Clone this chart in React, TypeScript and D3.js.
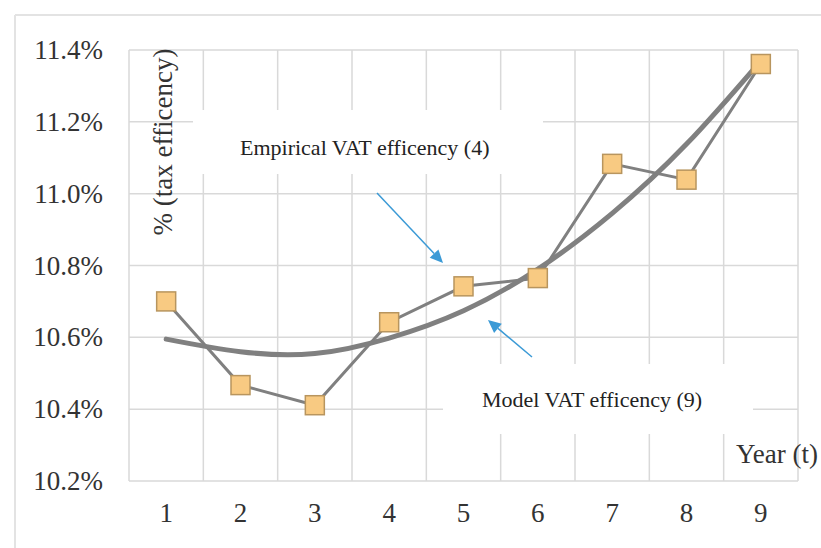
import React, { useEffect } from "react";
import * as d3 from "d3";

const years = ["1", "2", "3", "4", "5", "6", "7", "8", "9"];
const empirical = [10.7, 10.467, 10.411, 10.642, 10.742, 10.765, 11.083, 11.039, 11.361];
const model = [10.595, 10.56, 10.555, 10.598, 10.674, 10.79, 10.945, 11.138, 11.37];
const yTicks = [10.2, 10.4, 10.6, 10.8, 11.0, 11.2, 11.4];

const W = 821;
const H = 548;
const serif = "'Times New Roman', 'Liberation Serif', serif";

export default function App() {
  useEffect(() => {
    document.body.style.margin = "0";
  }, []);

  const x = d3.scaleBand<string>().domain(years).range([129, 798]);
  const bw = x.bandwidth();
  const cx = (i: number) => (x(years[i]) as number) + bw / 2;
  const y = d3.scaleLinear().domain([10.2, 11.4]).range([481, 50]);

  const empLine = d3
    .line<number>()
    .x((_, i) => cx(i))
    .y((d) => y(d));
  const modLine = d3
    .line<number>()
    .x((_, i) => cx(i))
    .y((d) => y(d))
    .curve(d3.curveNatural);

  const grid = "#d9d9d9";
  const lineCol = "#808080";
  const arrowCol = "#3b9ad6";
  const ms = 19;

  const arrow = (x1: number, y1: number, x2: number, y2: number, key: string) => {
    const ang = Math.atan2(y2 - y1, x2 - x1);
    const len = 13;
    const wid = 6;
    const bx = x2 - len * Math.cos(ang);
    const by = y2 - len * Math.sin(ang);
    const px = -Math.sin(ang) * wid;
    const py = Math.cos(ang) * wid;
    return (
      <g key={key}>
        <line x1={x1} y1={y1} x2={bx} y2={by} stroke={arrowCol} strokeWidth={1.5} />
        <path
          d={`M${x2},${y2}L${bx + px},${by + py}L${bx - px},${by - py}Z`}
          fill={arrowCol}
        />
      </g>
    );
  };

  return (
    <svg width={W} height={H} style={{ display: "block", background: "#fff" }}>
      {/* outer chart border */}
      <line x1={15} y1={15} x2={W} y2={15} stroke="#e3e3e3" strokeWidth={2} />
      <line x1={15} y1={15} x2={15} y2={H} stroke="#e3e3e3" strokeWidth={2} />

      {/* gridlines */}
      {yTicks.map((t) => (
        <line key={"h" + t} x1={129} x2={798} y1={y(t)} y2={y(t)} stroke={grid} strokeWidth={1.5} />
      ))}
      {years.map((yr) => (
        <line
          key={"v" + yr}
          x1={x(yr) as number}
          x2={x(yr) as number}
          y1={50}
          y2={481}
          stroke={grid}
          strokeWidth={1.5}
        />
      ))}
      <line x1={798} x2={798} y1={50} y2={481} stroke={grid} strokeWidth={1.5} />

      {/* label backgrounds */}
      <rect x={193} y={110} width={350} height={64} fill="#fff" />
      <rect x={443} y={364} width={310} height={70} fill="#fff" />

      {/* y tick labels */}
      {yTicks.map((t) => (
        <text
          key={"yl" + t}
          x={103}
          y={y(t)}
          textAnchor="end"
          dominantBaseline="central"
          fontFamily={serif}
          fontSize={27}
          fill="#333"
        >
          {t.toFixed(1) + "%"}
        </text>
      ))}
      {/* x tick labels */}
      {years.map((yr, i) => (
        <text
          key={"xl" + yr}
          x={cx(i)}
          y={513}
          textAnchor="middle"
          dominantBaseline="central"
          fontFamily={serif}
          fontSize={27}
          fill="#333"
        >
          {yr}
        </text>
      ))}

      {/* axis titles */}
      <text
        transform="translate(163,142) rotate(-90)"
        textAnchor="middle"
        dominantBaseline="central"
        fontFamily={serif}
        fontSize={27}
        fill="#333"
      >
        % (tax efficency)
      </text>
      <text x={818} y={463} textAnchor="end" fontFamily={serif} fontSize={27} fill="#333">
        Year (t)
      </text>

      {/* series */}
      <path d={modLine(model) as string} fill="none" stroke={lineCol} strokeWidth={5} strokeLinecap="round" />
      <path d={empLine(empirical) as string} fill="none" stroke={lineCol} strokeWidth={3} />
      {empirical.map((v, i) => (
        <rect
          key={"m" + i}
          x={cx(i) - ms / 2}
          y={y(v) - ms / 2}
          width={ms}
          height={ms}
          fill="#f8ca82"
          stroke="#b8955e"
          strokeWidth={1.5}
        />
      ))}

      {/* annotations */}
      <text x={240} y={155} fontFamily={serif} fontSize={22} fill="#222">
        Empirical VAT efficency (4)
      </text>
      <text x={482} y={407} fontFamily={serif} fontSize={22} fill="#222">
        Model VAT efficency (9)
      </text>
      {arrow(377, 193, 443, 263, "a1")}
      {arrow(532, 357, 488, 320, "a2")}
    </svg>
  );
}
